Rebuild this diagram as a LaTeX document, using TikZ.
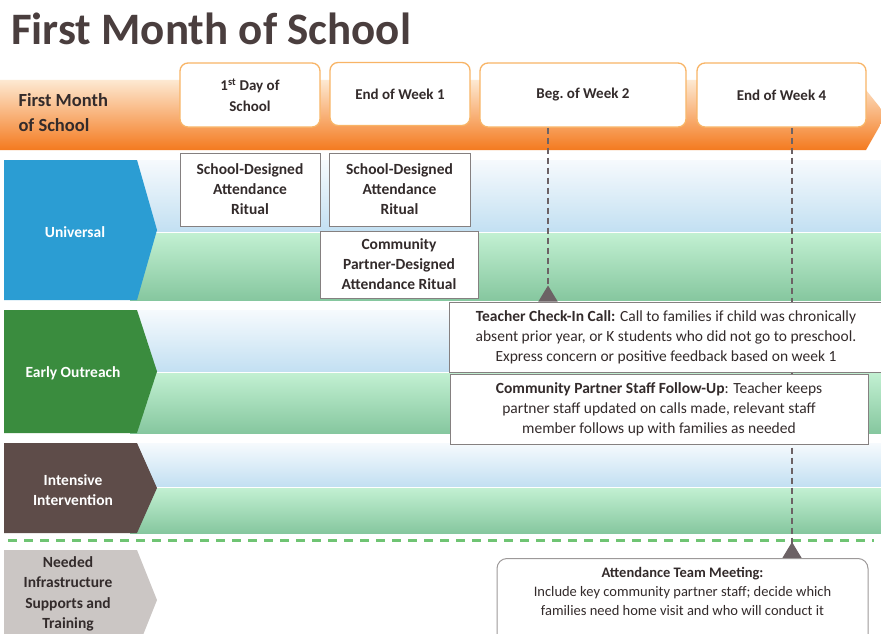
\documentclass[tikz,border=0pt]{standalone}
\usepackage{fontspec}
\setmainfont{Carlito}
\usetikzlibrary{arrows.meta}

\definecolor{titlebrown}{HTML}{4A3E3E}
\definecolor{textdark}{HTML}{332B2B}
\definecolor{orangetop}{HTML}{FDE9D2}
\definecolor{orangemid}{HTML}{F9A04A}
\definecolor{orangebot}{HTML}{F47A1F}
\definecolor{dateedge}{HTML}{F8B466}
\definecolor{bluetop}{HTML}{F6FAFD}
\definecolor{bluebot}{HTML}{C3E0F2}
\definecolor{greentop}{HTML}{C2F0D2}
\definecolor{greenbot}{HTML}{86C79F}
\definecolor{tierblue}{HTML}{2B9DD3}
\definecolor{tiergreen}{HTML}{3A8C3E}
\definecolor{tierbrown}{HTML}{5E4C49}
\definecolor{tiergray}{HTML}{CBC6C4}
\definecolor{boxedge}{HTML}{858080}
\definecolor{tickgray}{HTML}{6C6265}
\definecolor{dashgreen}{HTML}{6FC473}

\pgfdeclarelayer{bands}
\pgfdeclarelayer{ticks}
\pgfsetlayers{bands,ticks,main}

\tikzset{
	title/.style={font=\bfseries\fontsize{45}{50}\selectfont, text=titlebrown, inner sep=0pt},
	datebox/.style={draw=dateedge, line width=1.3pt, fill=white, rounded corners=8pt, align=center, inner sep=0pt, text=textdark, font=\bfseries\fontsize{15}{20.5}\selectfont},
	ritualbox/.style={draw=boxedge, line width=1pt, fill=white, align=center, inner sep=0pt, text=textdark, font=\bfseries\fontsize{15.5}{20}\selectfont},
	notebox/.style={draw=boxedge, line width=1pt, fill=white, align=center, inner sep=0pt, text=textdark, font=\fontsize{15.5}{20}\selectfont},
	tierlabel/.style={align=center, text=white, font=\bfseries\fontsize{15.5}{20.5}\selectfont},
	tickline/.style={draw=tickgray, line width=1.3pt, dash pattern=on 6pt off 4pt},
	ticktip/.style={-{Triangle[reversed, width=19pt, length=16pt]}},
}

\begin{document}
\begin{tikzpicture}[x=1pt, y=-1pt]
	%%%%% START %%%%%
	\useasboundingbox (0,0) rectangle (881,634);
	
	\node[title, anchor=base west] (title) at (11,45) {First Month of School};
	
	\begin{pgfonlayer}{bands}
		\fill[white] (0,0) rectangle (881,634);
		
		% timeline arrow
		\shade[top color=orangetop, middle color=orangemid, bottom color=orangebot] (0,80) -- (858,80) -- (886,115) -- (866,150) -- (0,150) -- cycle;
		
		% tier bands
		\foreach \top/\mid/\bot in {160/231/300, 310/371/433, 443/486/533} {
			\shade[top color=bluetop, bottom color=bluebot] (130,\top) rectangle (881,\mid);
			\shade[top color=greentop, bottom color=greenbot] (130,\mid+2) rectangle (881,\bot);
		}
		
		% tier chevrons
		\foreach \top/\bot/\col in {160/300/tierblue, 310/433/tiergreen, 443/533/tierbrown, 550/650/tiergray}
			\fill[\col] (4,\top) -- (137,\top) -- (157,{(\top+\bot)/2}) -- (137,\bot) -- (4,\bot) -- cycle;
		
		\draw[dashgreen, line width=3pt, dash pattern=on 9pt off 7pt] (8,540) -- (874,540);
	\end{pgfonlayer}
	
	\node[font=\bfseries\fontsize{18.5}{25}\selectfont, text=textdark, align=left, anchor=north west] (month) at (15,90) {First Month\\of School};
	
	\node[tierlabel] (univ) at (75,232) {Universal};
	\node[tierlabel] (early) at (73,373) {Early Outreach};
	\node[tierlabel] (intens) at (73,490) {Intensive\\Intervention};
	\node[tierlabel, text=textdark] (needed) at (68,594) {Needed\\Infrastructure\\Supports and\\Training};
	
	% dates
	\node[datebox, minimum width=140pt, minimum height=64pt] (day1) at (250,95) {1\textsuperscript{st} Day of\\School};
	\node[datebox, minimum width=140pt, minimum height=63pt] (wk1) at (400,94) {End of Week 1};
	\node[datebox, minimum width=206pt, minimum height=64pt] (wk2) at (583,95) {Beg.\ of Week 2};
	\node[datebox, minimum width=169pt, minimum height=64pt] (wk4) at (781.5,95) {End of Week 4};
	
	% universal
	\node[ritualbox, minimum width=140pt, minimum height=73pt] (ritual1) at (250,189.5) {School-Designed\\Attendance\\Ritual};
	\node[ritualbox, minimum width=141pt, minimum height=73pt] (ritual2) at (399.5,189.5) {School-Designed\\Attendance\\Ritual};
	\node[ritualbox, minimum width=158pt, minimum height=67pt] (partner) at (399,264.5) {Community\\Partner-Designed\\Attendance Ritual};
	
	% early outreach
	\node[notebox, minimum width=433pt, minimum height=70pt] (call) at (666,337) {\textbf{Teacher Check-In Call:} Call to families if child was chronically\\absent prior year, or K students who did not go to preschool.\\Express concern or positive feedback based on week 1};
	\node[notebox, minimum width=418pt, minimum height=70pt] (follow) at (659,409) {\textbf{Community Partner Staff Follow-Up}: Teacher keeps\\partner staff updated on calls made, relevant staff\\member follows up with families as needed};
	
	% infrastructure
	\node[notebox, draw=boxedge!80, rounded corners=10pt, minimum width=371pt, inner ysep=9pt, anchor=north, font=\fontsize{14.5}{19}\selectfont] (meet) at (682.5,558) {\textbf{Attendance Team Meeting:}\\Include key community partner staff; decide which\\families need home visit and who will conduct it\\[6pt]\mbox{}};
	
	\begin{pgfonlayer}{ticks}
		\path (wk2.south) ++(-35,0) coordinate (tick2);
		\path (wk4.south) ++(10.5,0) coordinate (tick4);
		\draw[tickline, ticktip] (tick2) -- (tick2 |- call.north);
		\draw[tickline, ticktip] (tick4) -- (tick4 |- meet.north);
	\end{pgfonlayer}
	
	%%%%% END %%%%%
\end{tikzpicture}
\end{document}
